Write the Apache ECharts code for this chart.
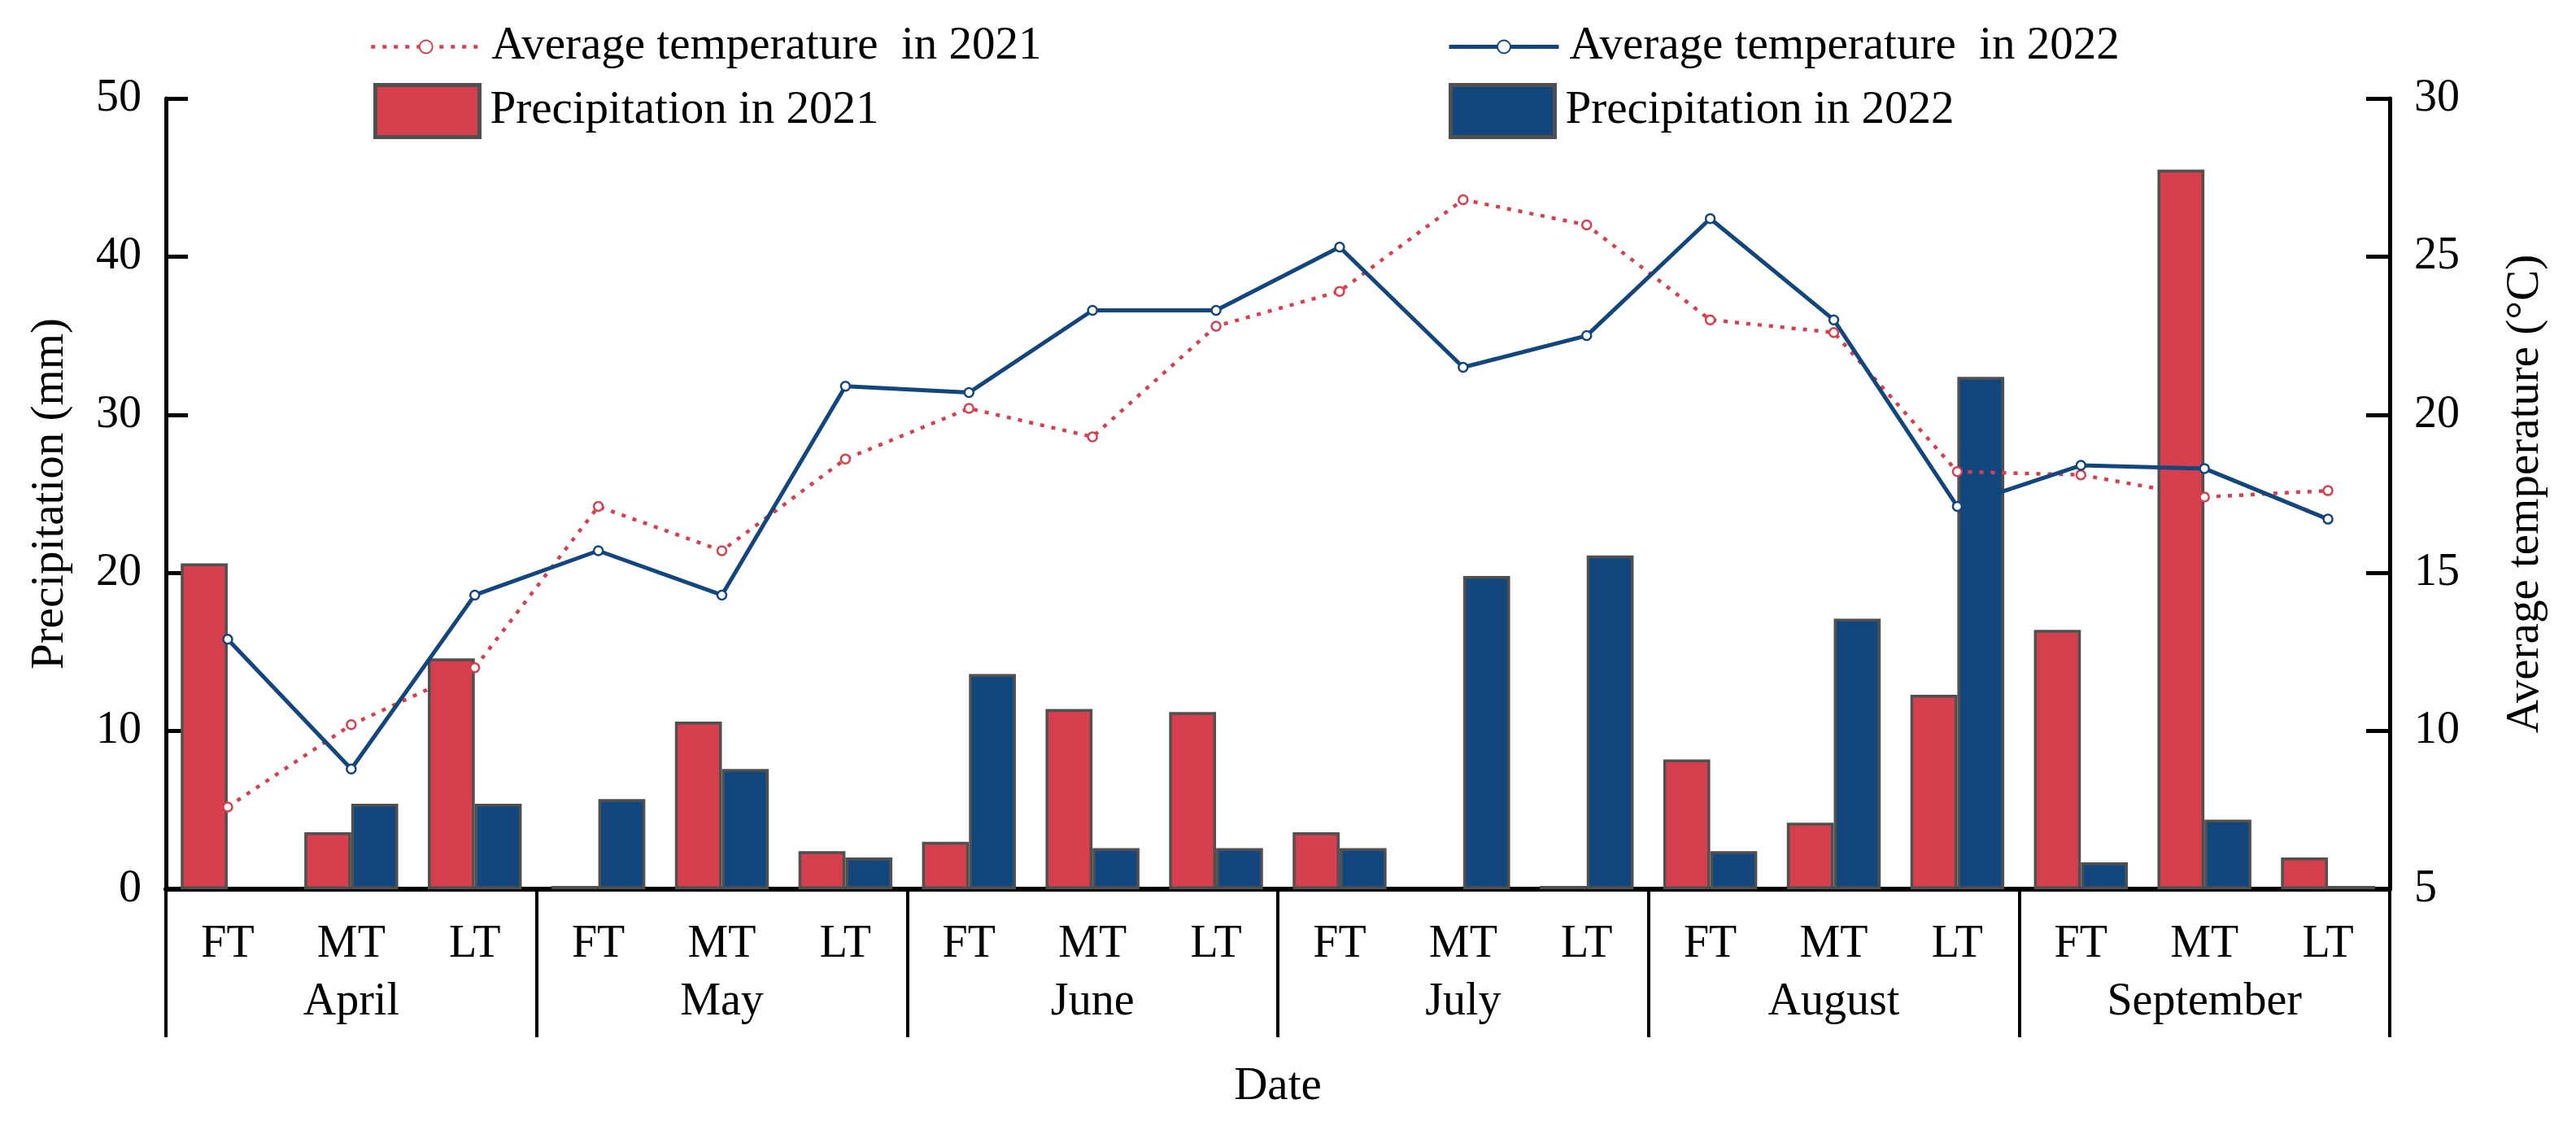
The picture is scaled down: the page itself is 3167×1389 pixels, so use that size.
<!DOCTYPE html>
<html>
<head>
<meta charset="utf-8">
<script src="https://cdn.jsdelivr.net/npm/echarts@6/dist/echarts.min.js"></script>
<style>html,body{margin:0;padding:0;background:#fff;}#main{width:3167px;height:1389px;}</style>
</head>
<body>
<div id="main"></div>
<script>
const months = ["April", "May", "June", "July", "August", "September"];
const periods = ["FT", "MT", "LT"];
const precip2021 = [20.6, 3.6, 14.6, 0.2, 10.6, 2.4, 3.0, 11.4, 11.2, 3.6, null, 0.2, 8.2, 4.2, 12.3, 16.4, 45.5, 2.0];
const precip2022 = [null, 5.4, 5.4, 5.7, 7.6, 2.0, 13.6, 2.6, 2.6, 2.6, 19.8, 21.1, 2.4, 17.1, 32.4, 1.7, 4.4, 0.2];
const temp2021 = [7.6, 10.2, 12.0, 17.1, 15.7, 18.6, 20.2, 19.3, 22.8, 23.9, 26.8, 26.0, 23.0, 22.6, 18.2, 18.1, 17.4, 17.6];
const temp2022 = [12.9, 8.8, 14.3, 15.7, 14.3, 20.9, 20.7, 23.3, 23.3, 25.3, 21.5, 22.5, 26.2, 23.0, 17.1, 18.4, 18.3, 16.7];
const precipTicks = {min: 0, max: 50, interval: 10};
const tempTicks = {min: 5, max: 30, interval: 5};

const categories = [];
months.forEach(m => periods.forEach(p => categories.push(p)));

const FONT = "'Liberation Serif', 'Times New Roman', serif";
const RED = "#D6404E";
const BLUE = "#14467E";
const BORDER = "#505050";

const chart = echarts.init(document.getElementById('main'), null, {renderer: 'canvas'});
const txt = {fontFamily: FONT, fontSize: 56, color: '#000'};
const legendText = {fontFamily: FONT, fontSize: 57, color: '#000', padding: [0, 0, 0, 8]};

chart.setOption({
  animation: false,
  backgroundColor: '#fff',
  grid: {left: 204, right: 229, top: 121, bottom: 296, containLabel: false},
  legend: [
    {data: ['Average temperature  in 2021'], left: 449, top: 24, itemWidth: 135, itemHeight: 20, textStyle: legendText, lineStyle: {width: 4.5}},
    {data: ['Average temperature  in 2022'], left: 1774, top: 24, itemWidth: 135, itemHeight: 20, textStyle: legendText, lineStyle: {width: 5}},
    {data: [{name: 'Precipitation in 2021', icon: 'rect'}], left: 454, top: 97, itemWidth: 128, itemHeight: 64, textStyle: legendText, itemStyle: {borderWidth: 5, borderColor: BORDER}},
    {data: [{name: 'Precipitation in 2022', icon: 'rect'}], left: 1776, top: 97, itemWidth: 128, itemHeight: 64, textStyle: legendText, itemStyle: {borderWidth: 5, borderColor: BORDER}}
  ],
  xAxis: [
    {
      type: 'category', data: categories, position: 'bottom',
      axisLine: {show: true, lineStyle: {color: '#000', width: 6}},
      axisTick: {show: false},
      axisLabel: Object.assign({interval: 0, margin: 40}, txt),
      splitLine: {show: false}
    },
    {
      type: 'category', data: months, position: 'bottom', offset: 0,
      axisLine: {show: false},
      axisTick: {show: true, inside: false, length: 182, interval: 0, lineStyle: {color: '#000', width: 4}},
      axisLabel: Object.assign({interval: 0, margin: 111}, txt),
      name: 'Date', nameLocation: 'middle', nameGap: 215,
      nameTextStyle: {fontFamily: FONT, fontSize: 57, color: '#000'}
    }
  ],
  yAxis: [
    {
      type: 'value', position: 'left', min: precipTicks.min, max: precipTicks.max, interval: precipTicks.interval,
      name: 'Precipitation (mm)', nameLocation: 'middle', nameGap: 113,
      nameTextStyle: {fontFamily: FONT, fontSize: 57, color: '#000'},
      axisLine: {show: true, lineStyle: {color: '#000', width: 5}},
      axisTick: {show: true, inside: true, length: 27, lineStyle: {color: '#000', width: 5}},
      axisLabel: Object.assign({margin: 30}, txt),
      splitLine: {show: false}
    },
    {
      type: 'value', position: 'right', min: tempTicks.min, max: tempTicks.max, interval: tempTicks.interval,
      name: 'Average temperature (°C)', nameLocation: 'middle', nameGap: 139,
      nameTextStyle: {fontFamily: FONT, fontSize: 57, color: '#000'},
      axisLine: {show: true, lineStyle: {color: '#000', width: 5}},
      axisTick: {show: true, inside: true, length: 29, lineStyle: {color: '#000', width: 5}},
      axisLabel: Object.assign({margin: 30}, txt),
      splitLine: {show: false}
    }
  ],
  series: [
    {
      name: 'Precipitation in 2021', type: 'bar', xAxisIndex: 0, yAxisIndex: 0, data: precip2021,
      barGap: '0%', barCategoryGap: '24%',
      itemStyle: {color: RED, borderColor: BORDER, borderWidth: 3.5}
    },
    {
      name: 'Precipitation in 2022', type: 'bar', xAxisIndex: 0, yAxisIndex: 0, data: precip2022,
      barGap: '0%', barCategoryGap: '24%',
      itemStyle: {color: BLUE, borderColor: BORDER, borderWidth: 3.5}
    },
    {
      name: 'Average temperature  in 2021', type: 'line', xAxisIndex: 0, yAxisIndex: 1, data: temp2021,
      symbol: 'circle', symbolSize: 11, z: 5,
      itemStyle: {color: '#fff', borderColor: RED, borderWidth: 2.5},
      lineStyle: {color: RED, width: 4.5, type: [5, 9]}
    },
    {
      name: 'Average temperature  in 2022', type: 'line', xAxisIndex: 0, yAxisIndex: 1, data: temp2022,
      symbol: 'circle', symbolSize: 11, z: 5,
      itemStyle: {color: '#fff', borderColor: BLUE, borderWidth: 2.5},
      lineStyle: {color: BLUE, width: 5}
    }
  ]
});
</script>
</body>
</html>
